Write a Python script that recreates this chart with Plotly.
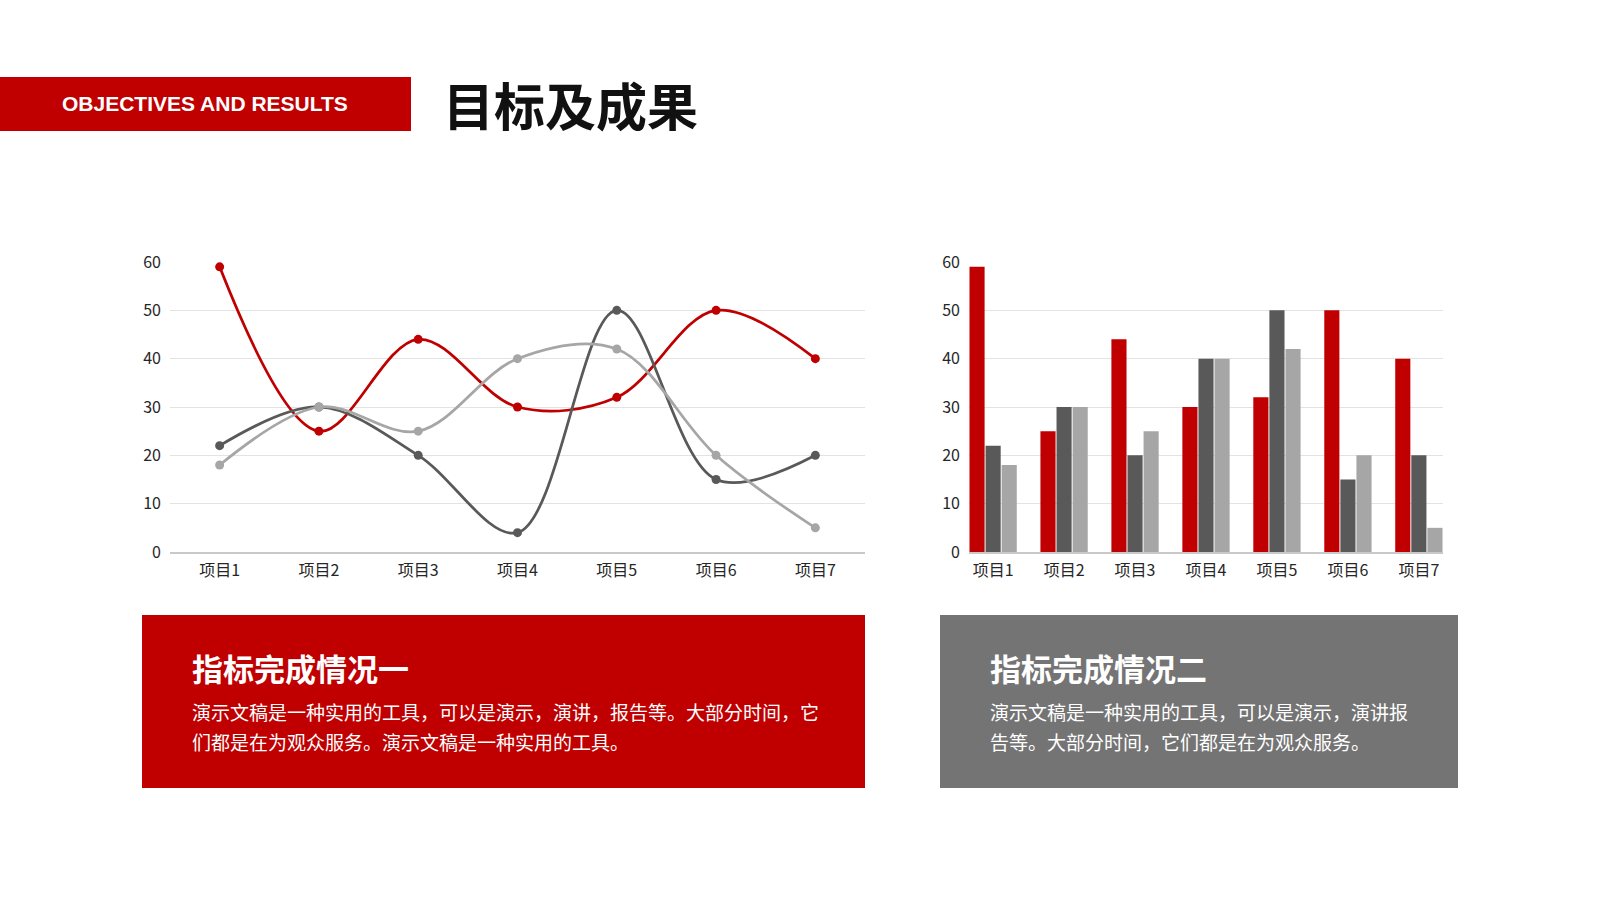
import plotly.graph_objects as go

W, H = 1600, 900

categories = ['项目1', '项目2', '项目3', '项目4', '项目5', '项目6', '项目7']
# line chart values
line_red = [59, 25, 44, 30, 32, 50, 40]
line_dark = [22, 30, 20, 4, 50, 15, 20]
line_light = [18, 30, 25, 40, 42, 20, 5]
# bar chart values (item 4 dark bar differs from the line chart)
bar_red = [59, 25, 44, 30, 32, 50, 40]
bar_dark = [22, 30, 20, 40, 50, 15, 20]
bar_light = [18, 30, 25, 40, 42, 20, 5]

header_en = 'OBJECTIVES AND RESULTS'
header_cn = '目标及成果'
box1_title = '指标完成情况一'
box1_lines = ['演示文稿是一种实用的工具，可以是演示，演讲，报告等。大部分时间，它',
              '们都是在为观众服务。演示文稿是一种实用的工具。']
box2_title = '指标完成情况二'
box2_lines = ['演示文稿是一种实用的工具，可以是演示，演讲报',
              '告等。大部分时间，它们都是在为观众服务。']

RED = '#C00000'
DARK = '#595959'
LIGHT = '#A6A6A6'
BOX_GRAY = '#747474'
CJK = 'Noto Sans CJK SC'


def px(x):
    return x / W


def py(y):
    return 1 - y / H


fig = go.Figure()

# line chart (left)
for vals, col in [(line_red, RED), (line_dark, DARK), (line_light, LIGHT)]:
    fig.add_trace(go.Scatter(
        x=categories, y=vals, mode='lines+markers',
        line=dict(color=col, width=2.75, shape='spline', smoothing=1.0),
        marker=dict(color=col, size=9),
        xaxis='x', yaxis='y', showlegend=False))

# bar chart (right)
for vals, col in [(bar_red, RED), (bar_dark, DARK), (bar_light, LIGHT)]:
    fig.add_trace(go.Bar(
        x=categories, y=vals, marker=dict(color=col, line=dict(width=0)),
        xaxis='x2', yaxis='y2', showlegend=False))

ydom = [py(552), py(262)]
tickfont = dict(family=CJK, size=16, color='#262626')

axis_y = dict(range=[0, 60], dtick=10, showgrid=True, gridcolor='#E3E3E3',
              gridwidth=1, zeroline=False, showline=False, tickfont=tickfont,
              ticks='', ticklabelstandoff=8, fixedrange=True, automargin=False)
axis_x = dict(type='category', showgrid=False, zeroline=False, showline=True,
              linecolor='#C8C8C8', linewidth=1.5, tickfont=tickfont, ticks='',
              ticklabelstandoff=3, fixedrange=True, automargin=False)

fig.update_layout(
    width=W, height=H,
    margin=dict(l=0, r=0, t=0, b=0, pad=0, autoexpand=False),
    paper_bgcolor='white', plot_bgcolor='white',
    barmode='group', bargap=0.32, bargroupgap=0.06,
    xaxis=dict(axis_x, domain=[px(170), px(865)], range=[-0.5, 6.5], anchor='y'),
    yaxis=dict(axis_y, domain=ydom, anchor='x'),
    xaxis2=dict(axis_x, domain=[px(969), px(1443)], range=[-0.34, 6.34], anchor='y2'),
    yaxis2=dict(axis_y, domain=ydom, anchor='x2'),
)

shapes = [
    dict(type='rect', xref='paper', yref='paper', x0=px(0), x1=px(411),
         y0=py(131), y1=py(77), fillcolor=RED, line=dict(width=0), layer='below'),
    dict(type='rect', xref='paper', yref='paper', x0=px(142), x1=px(865),
         y0=py(788), y1=py(615), fillcolor=RED, line=dict(width=0), layer='below'),
    dict(type='rect', xref='paper', yref='paper', x0=px(940), x1=px(1458),
         y0=py(788), y1=py(615), fillcolor=BOX_GRAY, line=dict(width=0), layer='below'),
]
fig.update_layout(shapes=shapes)


def note(text, x, y, size, color='white', family=CJK, xanchor='left'):
    fig.add_annotation(text=text, x=px(x), y=py(y), xref='paper', yref='paper',
                       xanchor=xanchor, yanchor='middle', showarrow=False,
                       font=dict(family=family, size=size, color=color))


note('<b>' + header_en + '</b>', 205, 103, 21, family='Liberation Sans, Arial', xanchor='center')
note('<b>' + header_cn + '</b>', 441, 104, 51, color='#111111')

note('<b>' + box1_title + '</b>', 190, 667, 31)
for i, line in enumerate(box1_lines):
    note(line, 190, 711 + 30 * i, 19)

note('<b>' + box2_title + '</b>', 988, 667, 31)
for i, line in enumerate(box2_lines):
    note(line, 988, 711 + 30 * i, 19)

# drop the default 8px body margin so the figure sits at the page origin
fig.write_html('out.html', config={'displayModeBar': False},
               post_script="document.body.style.margin='0';")
